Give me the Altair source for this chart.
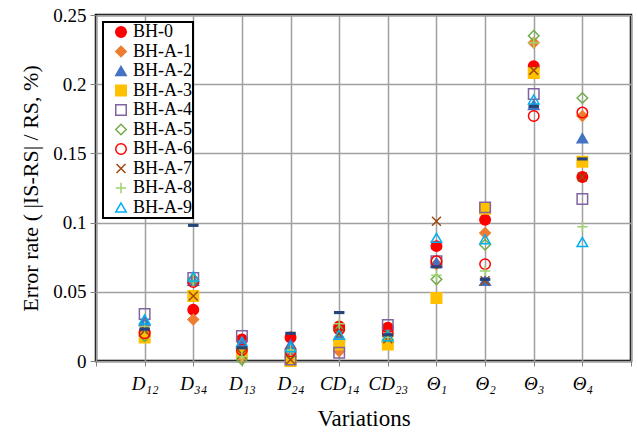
import altair as alt
import pandas as pd

categories = ["D₁₂", "D₃₄", "D₁₃", "D₂₄", "CD₁₄", "CD₂₃", "Θ₁", "Θ₂", "Θ₃", "Θ₄"]

series_names = ["BH-0", "BH-A-1", "BH-A-2", "BH-A-3", "BH-A-4",
                "BH-A-5", "BH-A-6", "BH-A-7", "BH-A-8", "BH-A-9"]

bh_0 = [0.021, 0.037, 0.0155, 0.017, 0.025, 0.024, 0.083, 0.102, 0.213, 0.133]
bh_a_1 = [0.019, 0.030, 0.003, 0.003, 0.007, 0.015, 0.070, 0.0925, 0.230, 0.177]
bh_a_2 = [0.029, 0.058, 0.013, 0.012, 0.018, 0.017, 0.071, 0.058, 0.185, 0.161]
bh_a_3 = [0.017, 0.047, 0.006, 0.000, 0.012, 0.012, 0.0455, 0.110, 0.208, 0.144]
bh_a_4 = [0.034, 0.060, 0.018, 0.001, 0.006, 0.026, 0.072, 0.111, 0.193, 0.117]
bh_a_5 = [0.018, 0.059, 0.001, 0.005, 0.022, 0.018, 0.059, 0.084, 0.235, 0.190]
bh_a_6 = [0.020, 0.057, 0.008, 0.007, 0.023, 0.020, 0.072, 0.070, 0.177, 0.1795]
bh_a_7 = [0.022, 0.047, 0.005, 0.001, 0.020, 0.016, 0.101, 0.058, 0.210, 0.133]
bh_a_8 = [0.025, 0.058, 0.003, 0.008, 0.027, 0.017, 0.062, 0.065, 0.230, 0.097]
bh_a_9 = [0.030, 0.061, 0.014, 0.010, 0.019, 0.018, 0.089, 0.088, 0.189, 0.086]
extra_dash = [0.023, 0.098, 0.0095, 0.020, 0.035, 0.019, 0.068, 0.059, 0.184, 0.146]

all_series = [bh_0, bh_a_1, bh_a_2, bh_a_3, bh_a_4, bh_a_5, bh_a_6, bh_a_7, bh_a_8, bh_a_9]

stroke_colors = ["#ff0000", "#ed7d31", "#4472c4", "#ffc000", "#8064a2",
                 "#70ad47", "#ff0000", "#9e480e", "#9fd36f", "#00b0f0"]
fill_colors = ["#ff0000", "#ed7d31", "#4472c4", "#ffc000", "transparent",
               "transparent", "transparent", "transparent", "transparent", "transparent"]
X_PATH = "M-0.85,-0.85L0.85,0.85M-0.85,0.85L0.85,-0.85"
PLUS_PATH = "M-1,0L1,0M0,-1L0,1"
shapes = ["circle", "diamond", "triangle-up", "square", "square",
          "diamond", "circle", X_PATH, PLUS_PATH, "triangle-up"]

rows = []
for name, vals in zip(series_names, all_series):
    for i, v in enumerate(vals):
        rows.append({"series": name, "x": i + 1, "value": v})
df = pd.DataFrame(rows)

dash_df = pd.DataFrame({"x": list(range(1, 11)), "value": extra_dash})

FONT = "Liberation Serif, Times New Roman, serif"
label_arr = "['', " + ", ".join("'" + c + "'" for c in categories) + ", '']"

x_enc = alt.X(
    "x:Q",
    scale=alt.Scale(domain=[0, 11], nice=False, zero=False),
    axis=alt.Axis(
        values=list(range(0, 12)),
        labelExpr=label_arr + "[datum.value]",
        title="Variations",
        labelFont=FONT, labelFontStyle="italic", labelFontSize=19,
        titleFont=FONT, titleFontSize=23, titleFontWeight="normal",
        titlePadding=14, labelPadding=8,
        grid=True, gridColor="#a0a0a0", gridWidth=1.5,
        domain=False, tickColor="#808080", tickSize=5,
        labelColor="black", titleColor="black",
    ),
)
y_enc = alt.Y(
    "value:Q",
    scale=alt.Scale(domain=[0, 0.25], nice=False),
    axis=alt.Axis(
        values=[0, 0.05, 0.1, 0.15, 0.2, 0.25],
        format=".2~f",
        title="Error rate ( |IS-RS| / RS, %)",
        labelFont=FONT, labelFontSize=19,
        titleFont=FONT, titleFontSize=22, titleFontWeight="normal",
        titlePadding=10, labelPadding=4,
        grid=True, gridColor="#a0a0a0", gridWidth=1.5,
        domain=False, tickColor="#808080", tickSize=6,
        labelColor="black", titleColor="black",
    ),
)

legend = alt.Legend(
    orient="none", legendX=7, legendY=7,
    labelFont=FONT, labelFontSize=18, labelColor="black",
    symbolSize=110, symbolStrokeWidth=1.5, symbolOffset=8,
    strokeColor="black", fillColor="white", padding=1,
    rowPadding=1.5, labelOffset=3,
)

points = alt.Chart(df).mark_point(size=110, strokeWidth=1.5, opacity=1).encode(
    x=x_enc,
    y=y_enc,
    shape=alt.Shape("series:N", title=None,
                    scale=alt.Scale(domain=series_names, range=shapes),
                    sort=series_names, legend=legend),
    stroke=alt.Stroke("series:N", title=None,
                      scale=alt.Scale(domain=series_names, range=stroke_colors),
                      sort=series_names, legend=legend),
    fill=alt.Fill("series:N", title=None,
                  scale=alt.Scale(domain=series_names, range=fill_colors),
                  sort=series_names, legend=legend),
)

dash = alt.Chart(dash_df).mark_point(
    shape="M-1,-0.3L1,-0.3L1,0.3L-1,0.3Z", size=110, filled=True,
    color="#264478", opacity=1,
).encode(x=alt.X("x:Q"), y=alt.Y("value:Q"))

chart = alt.layer(points, dash).properties(
    width=535, height=346,
    autosize=alt.AutoSizeParams(type="none"),
    padding={"left": 96, "top": 15, "right": 7, "bottom": 72},
).configure_view(
    stroke="black", strokeWidth=2.5,
).configure_legend(
    strokeWidth=2,
)

chart.save("out.html", embed_options={"renderer": "svg", "actions": False})
